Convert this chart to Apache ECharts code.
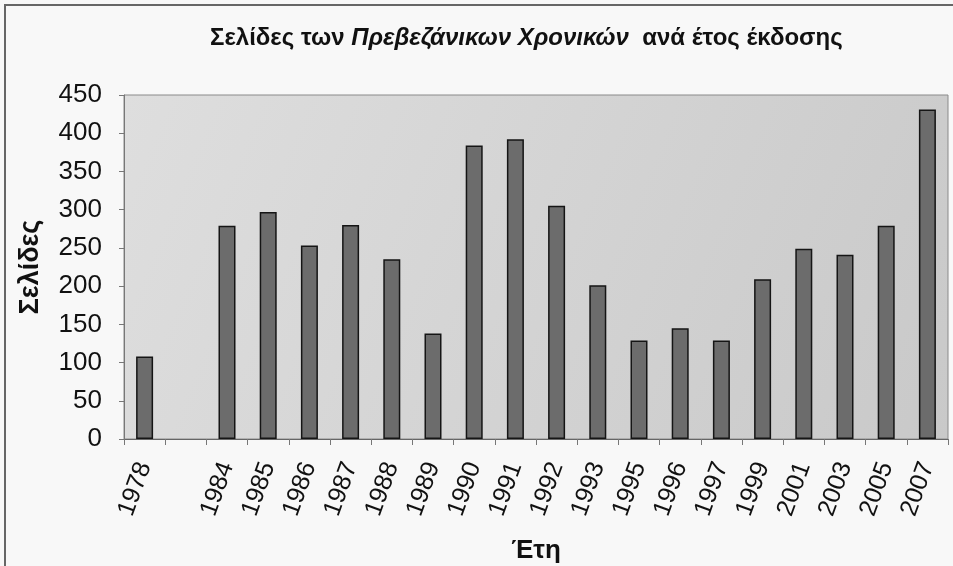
<!DOCTYPE html>
<html>
<head>
<meta charset="utf-8">
<title>Σελίδες ανά έτος</title>
<script src="https://cdn.jsdelivr.net/npm/echarts@6/dist/echarts.min.js"></script>
<style>
  html, body { margin: 0; padding: 0; background: #f8f8f8; }
  #chart { width: 953px; height: 566px; }
</style>
</head>
<body>
<div id="chart"></div>
<script>
// years (one empty slot between 1978 and 1984, as in the original)
const years = ['1978', '', '1984', '1985', '1986', '1987', '1988', '1989', '1990', '1991',
  '1992', '1993', '1995', '1996', '1997', '1999', '2001', '2003', '2005', '2007']
// pages per year
const pages = [108, null, 279, 297, 253, 280, 235, 138, 384, 392,
  305, 201, 129, 145, 129, 209, 249, 241, 279, 431]
const yTicks = [0, 50, 100, 150, 200, 250, 300, 350, 400, 450]

const myChart = echarts.init(document.getElementById('chart'))

const option = {
  backgroundColor: '#f8f8f8',
  animation: false,
  textStyle: { fontFamily: 'Liberation Sans, Arial, sans-serif' },
  title: {
    text: '{n|Σελίδες των }{i|Πρεβεζάνικων Χρονικών}{n|  ανά έτος έκδοσης}',
    left: 205,
    top: 21,
    textStyle: {
      rich: {
        n: { fontSize: 24, fontWeight: 'bold', color: '#111' },
        i: { fontSize: 24, fontWeight: 'bold', fontStyle: 'italic', color: '#111' }
      }
    }
  },
  graphic: [{
    type: 'rect',
    shape: { x: 5, y: 5, width: 1000, height: 620 },
    style: { fill: 'none', stroke: '#666', lineWidth: 2 },
    silent: true
  }],
  grid: {
    left: 124,
    right: 5,
    top: 95,
    bottom: 127,
    outerBoundsMode: 'none',
    containLabel: false,
    show: true,
    borderColor: '#8a8a8a',
    borderWidth: 1,
    backgroundColor: {
      type: 'linear', x: 0, y: 0, x2: 1, y2: 1,
      colorStops: [
        { offset: 0, color: '#dedede' },
        { offset: 1, color: '#c9c9c9' }
      ]
    }
  },
  xAxis: {
    type: 'category',
    data: years,
    name: 'Έτη',
    nameLocation: 'middle',
    nameGap: 99,
    nameTextStyle: { fontSize: 26, fontWeight: 'bold', color: '#111' },
    axisLine: { lineStyle: { color: '#666', width: 1 } },
    axisTick: { show: true, length: 6, lineStyle: { color: '#777' } },
    axisLabel: {
      rotate: 70,
      fontSize: 25,
      color: '#111',
      margin: 24,
      interval: 0
    }
  },
  yAxis: {
    type: 'value',
    min: 0,
    max: 450,
    interval: 50,
    name: 'Σελίδες',
    nameLocation: 'middle',
    nameGap: 80,
    nameTextStyle: { fontSize: 27, fontWeight: 'bold', color: '#111' },
    axisLine: { show: true, lineStyle: { color: '#777', width: 1 } },
    axisTick: { show: true, length: 5, lineStyle: { color: '#777' } },
    splitLine: { show: false },
    axisLabel: {
      fontSize: 26,
      color: '#111',
      margin: 22,
      formatter: function(v) { return yTicks.indexOf(v) >= 0 ? String(v) : '' }
    }
  },
  series: [{
    type: 'bar',
    data: pages,
    barWidth: 17,
    itemStyle: {
      color: '#6c6c6c',
      borderColor: '#151515',
      borderWidth: 1.5
    }
  }]
}
myChart.setOption(option)
</script>
</body>
</html>
